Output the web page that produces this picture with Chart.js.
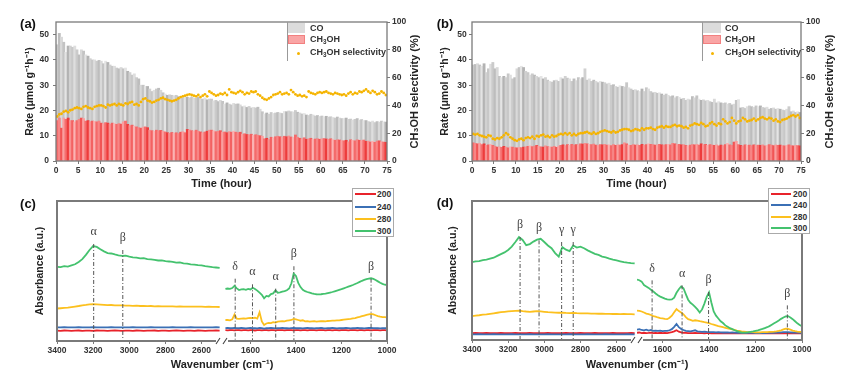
<!DOCTYPE html>
<html>
<head>
<meta charset="utf-8">
<script src="https://cdn.jsdelivr.net/npm/chart.js@4.4.1/dist/chart.umd.min.js"></script>
<style>
  body { margin: 0; background: #fff; width: 851px; height: 375px; position: relative; overflow: hidden;
         font-family: "Liberation Sans", Arial, sans-serif; }
  canvas { position: absolute; }
  .t { position: absolute; font-weight: bold; color: #333; white-space: nowrap; transform: translateY(-50%); line-height: 1; }
  .pl { position: absolute; font-weight: bold; font-size: 13px; color: #111; transform: translate(-50%, -50%); }
  .sw { position: absolute; }
  .box { position: absolute; background: #fff; border: 1px solid #aaa; box-sizing: border-box; }
  sub { font-size: 70%; vertical-align: -2px; }
</style>
</head>
<body>
<canvas id="ca" width="425" height="195" style="left:0;top:0"></canvas>
<canvas id="cb" width="426" height="195" style="left:425px;top:0"></canvas>
<canvas id="cc" width="425" height="187" style="left:0;top:188px"></canvas>
<canvas id="cd" width="426" height="187" style="left:425px;top:188px"></canvas>

<div class="pl" style="left:28px;top:23px">(a)</div>
<div class="pl" style="left:445px;top:23px">(b)</div>
<div class="pl" style="left:28px;top:203px">(c)</div>
<div class="pl" style="left:445px;top:202px">(d)</div>

<!-- legend (a) -->
<div class="sw" style="left:287px;top:22px;height:39px;border-left:1px solid #999"></div>
<div class="sw" style="left:288px;top:23px;width:17px;height:10px;background:#dcdcdc"></div>
<div class="sw" style="left:288px;top:35px;width:17px;height:9px;background:#f9a5a5;border:1px solid #f28080;box-sizing:border-box"></div>
<div class="sw" style="left:297px;top:52px;width:3px;height:3px;border-radius:50%;background:#f5b400"></div>
<div class="t" style="left:310px;top:28px;font-size:9px">CO</div>
<div class="t" style="left:310px;top:40px;font-size:9px">CH<sub>3</sub>OH</div>
<div class="t" style="left:310px;top:53px;font-size:9px">CH<sub>3</sub>OH selectivity</div>

<!-- legend (b) -->
<div class="sw" style="left:702px;top:22px;height:39px;border-left:1px solid #999"></div>
<div class="sw" style="left:703px;top:23px;width:18px;height:10px;background:#dcdcdc"></div>
<div class="sw" style="left:703px;top:35px;width:18px;height:9px;background:#f9a5a5;border:1px solid #f28080;box-sizing:border-box"></div>
<div class="sw" style="left:711px;top:52px;width:3px;height:3px;border-radius:50%;background:#f5b400"></div>
<div class="t" style="left:725px;top:28px;font-size:9px">CO</div>
<div class="t" style="left:725px;top:40px;font-size:9px">CH<sub>3</sub>OH</div>
<div class="t" style="left:725px;top:53px;font-size:9px">CH<sub>3</sub>OH selectivity</div>

<!-- legend (c) -->
<div class="box" style="left:352px;top:188px;width:42px;height:49px"></div>
<div class="sw" style="left:355px;top:193px;width:21px;height:2px;background:#e8232b"></div>
<div class="sw" style="left:355px;top:206px;width:21px;height:2px;background:#3b70b5"></div>
<div class="sw" style="left:355px;top:218px;width:21px;height:2px;background:#fcc01e"></div>
<div class="sw" style="left:355px;top:230px;width:21px;height:2px;background:#44c26e"></div>
<div class="t" style="left:377px;top:194px;font-size:8.5px">200</div>
<div class="t" style="left:377px;top:207px;font-size:8.5px">240</div>
<div class="t" style="left:377px;top:219px;font-size:8.5px">280</div>
<div class="t" style="left:377px;top:231px;font-size:8.5px">300</div>

<!-- legend (d) -->
<div class="box" style="left:768px;top:188px;width:42px;height:46px"></div>
<div class="sw" style="left:771px;top:193px;width:20px;height:2px;background:#e8232b"></div>
<div class="sw" style="left:771px;top:204px;width:20px;height:2px;background:#3b70b5"></div>
<div class="sw" style="left:771px;top:216px;width:20px;height:2px;background:#fcc01e"></div>
<div class="sw" style="left:771px;top:227px;width:20px;height:2px;background:#44c26e"></div>
<div class="t" style="left:793px;top:194px;font-size:8.5px">200</div>
<div class="t" style="left:793px;top:205px;font-size:8.5px">240</div>
<div class="t" style="left:793px;top:217px;font-size:8.5px">280</div>
<div class="t" style="left:793px;top:228px;font-size:8.5px">300</div>

<script>
// ---- time-on-stream data, one value per half hour (bars centred at 0.25, 0.75, ... h)
const hourStart = 0.25, hourStep = 0.5;

// panel (a)
const coA = [
  30, 33.5, 36, 30, 26.5, 28.5, 29.5, 29, 30, 28,
  25.5, 27, 26.7, 26.2, 25.5, 24.9, 24.2, 24.3, 24, 24,
  24.5, 23.7, 24.3, 24, 23.4, 22.5, 22.7, 22.3, 21.7, 22.4,
  21, 21, 21, 21, 19.8, 20.7, 19.5, 19.3, 17, 16.6,
  16, 16.3, 16.3, 15.5, 16.2, 16.3, 16.8, 15.9, 15.2, 15,
  14.8, 15.2, 14.7, 14.8, 14.8, 14.6, 14.1, 13.4, 14.6, 12.7,
  12.7, 13.3, 13.2, 12.6, 13.4, 13.1, 13.3, 13.5, 12.4, 12.3,
  12.3, 11.8, 12.4, 11.7, 12, 12.2, 11, 11.8, 10.9, 10.8,
  11, 11.1, 11.4, 10.8, 10.9, 11, 10.7, 11.2, 10.4, 11,
  10.6, 11.1, 10.5, 9.7, 9.8, 10, 10, 9.8, 9.6, 9.4,
  9.4, 9.4, 9.4, 9.8, 9.9, 9.9, 10, 10.1, 9.7, 9.9,
  10, 9.8, 9.6, 9.6, 9.2, 9.5, 9.7, 9.1, 9.2, 9,
  9, 8.6, 9, 8.8, 8.7, 8.7, 8.8, 9, 8.7, 8.7,
  8.8, 8.8, 8.9, 8.2, 8, 8.5, 8.4, 8, 8.3, 7.7,
  8.2, 7.7, 7.9, 8, 7.8, 7.7, 7.4, 8.2, 8, 8
];
const meohA = [
  16, 17, 13, 17, 16.5, 17, 16, 16, 15.5, 16,
  16.5, 17, 16.8, 15.8, 16, 15.6, 15.8, 15.7, 15.5, 15.8,
  15, 14.8, 15.2, 15, 14.6, 15, 14.8, 14.5, 14.8, 14.6,
  15.5, 15.8, 14.5, 14, 14.2, 13.8, 13.5, 13.2, 13, 13.4,
  13.5, 13.2, 12.2, 12, 11.8, 12.2, 12, 12.1, 11.8, 11.5,
  11.2, 11, 11.3, 11, 11.2, 10.9, 11.4, 11.6, 11.2, 12.5,
  12.3, 12, 11.8, 12.2, 11.8, 11.5, 11.2, 11.5, 11.8, 12.2,
  12.2, 12, 11.6, 11.8, 12, 11.4, 11.5, 11.2, 11.6, 11.4,
  11.8, 11.4, 11.2, 11.4, 10.6, 10.8, 10.5, 10.4, 10.6, 10.2,
  10.4, 10.2, 10, 9.8, 8.8, 9, 8.5, 9.4, 9.2, 9.6,
  9.8, 9.6, 9.4, 9.8, 9.6, 9.9, 9.5, 9.3, 10.3, 9.4,
  9, 8.8, 9.2, 8.6, 8.8, 9, 8.5, 8.7, 8.8, 8.6,
  8.8, 8.9, 8.7, 8.6, 8.8, 8.5, 8.2, 8.4, 8.3, 8.1,
  8, 8.2, 7.6, 8.4, 8.2, 8, 8.4, 8.2, 8.1, 8.3,
  7.8, 7.9, 7.5, 7.8, 7.4, 7.9, 8, 7.6, 7.5, 7.4
];
const selA = [
  32, 33.5, 34, 35.5, 36, 35, 36.5, 37, 38, 38.5,
  38, 37.5, 39, 39.5, 38.5, 38, 37.5, 39, 39.5, 40,
  40, 39.5, 38.5, 40.5, 40, 40.5, 41, 40, 41, 40.5,
  40, 41.5, 41, 42, 42.5, 40.5, 41, 40, 42.5, 44.5,
  45, 43.5, 43, 42, 42.5, 43.5, 44, 45, 45.5, 44.5,
  44, 43.5, 43, 43.5, 44, 45, 46, 46.5, 47, 47.5,
  48, 47.5, 47, 46.5, 47.5, 46, 47, 48, 46.5, 50,
  49, 48, 47, 47.5, 48.5, 48, 49, 47.5, 51.5, 49.5,
  49, 48.5, 49.5, 50.5, 49.5, 48, 49, 48.5, 50, 49.5,
  50, 48, 47, 45.5, 44.5, 44, 45, 46, 47.5, 48,
  48.5, 49.5, 48, 48.5, 49, 48, 51, 49.5, 48, 47,
  47.5, 46.5, 47, 46, 50, 49, 48.5, 48, 49, 49.5,
  49, 49.5, 50, 49, 48.5, 48, 49, 48.5, 48, 47.5,
  48, 47, 48.5, 49.5, 48, 49, 48.5, 50, 49.5, 50.5,
  51.5, 50, 49, 50.5, 49.5, 48, 48.5, 50, 49, 47.5
];

// panel (b)
const coB = [
  30.8, 31.2, 31.7, 31, 31, 31.7, 28.8, 30.1, 31.7, 32.8,
  30.7, 31.5, 27.9, 27.6, 27.7, 27.5, 29.3, 28.4, 27, 27.7,
  31.3, 31.6, 32.2, 31.5, 29.9, 29.2, 28, 28.8, 28.1, 27.3,
  27.2, 27.9, 27, 27, 26.3, 25.9, 25.7, 26, 26.6, 25.6,
  26.8, 26.1, 27.4, 26.3, 26.3, 24.9, 26.2, 25.3, 26.6, 25.7,
  26.3, 29.5, 25.2, 25.9, 25, 25.3, 25.2, 24.8, 25, 24.8,
  24.4, 24.2, 24.4, 23.9, 23.7, 23.3, 22.8, 23.5, 23, 22.1,
  24.2, 22.7, 22.3, 21.5, 21.9, 21.4, 21.3, 21.9, 21.2, 22.5,
  21.7, 20.9, 20.5, 20.9, 20.4, 20.4, 20.1, 19.7, 20, 19.4,
  19.1, 18.8, 18.2, 19, 18.6, 18.1, 18.3, 17.8, 18.5, 17.9,
  19, 18.6, 19.2, 18.2, 17.2, 17.7, 17.2, 17.8, 17, 16.9,
  18.3, 16.6, 17.5, 16.7, 16.7, 16.5, 15.5, 16.4, 16, 15,
  16.2, 17.8, 14.8, 15.2, 14.4, 15.3, 15.5, 15.4, 14.8, 15.6,
  15.2, 15.6, 14.8, 15, 15.1, 14, 14.5, 14.9, 14.1, 14.6,
  14.2, 14.1, 14, 14.3, 15.1, 13.4, 13.8, 13, 13.4, 13.2
];
const meohB = [
  7.2, 7, 6.8, 7, 6.5, 6.8, 6.2, 6.4, 6.6, 6.2,
  5.8, 5.5, 5.6, 5.4, 5.8, 5.5, 5.2, 5.6, 5.5, 5.3,
  5.2, 5.4, 5.3, 5.5, 5.6, 5.8, 6, 5.7, 5.9, 6.2,
  5.8, 5.6, 5.5, 6, 5.7, 5.6, 5.5, 5.8, 5.4, 5.9,
  6.2, 6.4, 6.1, 6.5, 6.2, 6.6, 6.3, 6.5, 6.4, 6.8,
  6.7, 7, 6.8, 6.6, 6.5, 6.7, 6.3, 6.2, 6.5, 6.4,
  6.6, 6.3, 6.4, 6.1, 6.5, 6.2, 6.4, 6.3, 6.5, 7.2,
  6.8, 6.3, 6.2, 6.5, 6.3, 6.4, 6.2, 6.6, 6.3, 6.5,
  6.8, 6.6, 6.5, 6.3, 6.4, 6.6, 6.4, 6.3, 6.5, 6.6,
  6.4, 7, 6.8, 6.5, 6.6, 6.4, 6.5, 6.2, 6, 6.3,
  6.5, 6.4, 6.6, 6.3, 6.8, 6.5, 6.6, 6.2, 6.5, 6.3,
  6.2, 6.4, 6, 6.3, 6.1, 6.5, 7, 6.4, 6.2, 7.5,
  7.8, 6.5, 6.2, 6, 6.4, 6.2, 6.3, 6.1, 6.4, 6.2,
  6.3, 6.2, 6.4, 6, 6.2, 6.5, 6.3, 6.1, 6.4, 6.2,
  6.3, 6.1, 6, 6.2, 6.4, 6.1, 6, 6.2, 6.1, 6
];
const selB = [
  19.5, 19, 19.5, 18.5, 18, 17.5, 17, 18.5, 18, 16,
  15.5, 16.5, 16, 17, 18.5, 20, 19, 17, 16, 15,
  14.5, 15.5, 16, 15, 16.5, 17, 16.5, 17.5, 16, 18,
  17.5, 18.5, 19, 17.5, 18, 17, 18.5, 17.5, 18, 19,
  19.5, 19, 20, 19, 20, 18.5, 19.5, 18.5, 19.5, 20,
  20, 20.5, 21, 20, 19.5, 20.5, 19.5, 20, 21, 21.5,
  22, 21.5, 21, 20.5, 21.5, 20.5, 21, 22, 22.5, 23,
  23, 22.5, 21.5, 22, 23, 22.5, 22, 23.5, 22.5, 23.5,
  23.5, 24, 23, 22.5, 24, 24.5, 25, 24, 25, 24.5,
  24.5, 25.5, 26, 25, 25.5, 25, 24, 24.5, 23.5, 25.5,
  26, 27, 26.5, 26, 27.5, 26.5, 25, 25.5, 27, 28,
  26.5, 25.5, 27, 26.5, 30, 28.5, 27, 28, 31, 29,
  27, 28.5, 29, 31, 30, 28.5, 29, 29.5, 30.5, 29,
  30, 31, 31.5, 30.5, 30, 31, 30.5, 29, 30, 28.5,
  28, 29.5, 30, 30.5, 31.5, 32.5, 33, 32, 33, 31
];

// ---- DRIFTS spectra (absorbance in arbitrary units, 0..1 of the panel height)
const wnHigh = [3400, 3380, 3360, 3340, 3320, 3300, 3280, 3260, 3240, 3220,
  3200, 3180, 3160, 3140, 3120, 3100, 3080, 3060, 3040, 3020,
  3000, 2980, 2960, 2940, 2920, 2900, 2880, 2860, 2840, 2820,
  2800, 2780, 2760, 2740, 2720, 2700, 2680, 2660, 2640, 2620,
  2600, 2580, 2560, 2540, 2520, 2500];
const wnLow = [1710, 1700, 1690, 1680, 1670, 1660, 1650, 1640, 1630, 1620,
  1610, 1600, 1590, 1580, 1570, 1560, 1550, 1540, 1530, 1520,
  1510, 1500, 1490, 1480, 1470, 1460, 1450, 1440, 1430, 1420,
  1410, 1400, 1390, 1380, 1370, 1360, 1350, 1340, 1330, 1320,
  1310, 1300, 1290, 1280, 1270, 1260, 1250, 1240, 1230, 1220,
  1210, 1200, 1190, 1180, 1170, 1160, 1150, 1140, 1130, 1120,
  1110, 1100, 1090, 1080, 1070, 1060, 1050, 1040, 1030, 1020,
  1010, 1000];
const temps = ['200', '240', '280', '300'];

// panel (c)
const c300High = [.530, .528, .535, .532, .540, .548, .565, .585, .615, .650,
  .678, .672, .655, .640, .628, .625, .618, .612, .608, .610,
  .602, .598, .596, .590, .592, .585, .583, .580, .575, .576,
  .570, .568, .565, .560, .562, .555, .553, .548, .546, .542,
  .540, .535, .532, .528, .525, .522];
const c280High = [.232, .234, .236, .238, .242, .246, .250, .255, .258, .262,
  .264, .262, .260, .258, .256, .257, .255, .254, .255, .253,
  .252, .251, .252, .250, .250, .249, .250, .248, .249, .248,
  .247, .248, .247, .246, .247, .246, .246, .245, .246, .245,
  .245, .244, .245, .244, .244, .243];
const c240High = [.098, .097, .099, .098, .098, .097, .099, .098, .097, .098,
  .099, .098, .097, .098, .098, .099, .097, .098, .098, .097,
  .098, .099, .098, .097, .098, .098, .099, .098, .097, .098,
  .098, .097, .099, .098, .098, .097, .098, .099, .098, .097,
  .098, .098, .097, .098, .099, .098];
const c200High = [.074, .073, .075, .074, .073, .074, .075, .073, .074, .074,
  .073, .075, .074, .074, .073, .074, .075, .074, .073, .074,
  .074, .073, .075, .074, .073, .074, .074, .075, .073, .074,
  .074, .073, .074, .075, .074, .073, .074, .074, .073, .075,
  .074, .073, .074, .074, .075, .074];
const c300Low = [.372, .375, .372, .378, .394, .376, .364, .368, .370, .366,
  .372, .368, .380, .372, .360, .345, .330, .305, .322, .318,
  .335, .340, .362, .345, .348, .352, .356, .362, .375, .412,
  .482, .465, .415, .385, .366, .356, .350, .345, .340, .336,
  .334, .333, .334, .336, .338, .342, .346, .350, .355, .360,
  .365, .370, .376, .382, .388, .394, .400, .407, .414, .422,
  .430, .436, .442, .446, .448, .444, .436, .426, .416, .408,
  .402, .400];
const c280Low = [.150, .150, .148, .155, .190, .160, .158, .160, .162, .160,
  .163, .165, .163, .166, .160, .205, .140, .115, .125, .130,
  .128, .135, .132, .138, .140, .142, .140, .145, .148, .150,
  .158, .155, .150, .145, .148, .140, .142, .138, .140, .142,
  .138, .140, .141, .142, .140, .143, .144, .145, .146, .147,
  .148, .150, .152, .154, .156, .158, .161, .164, .168, .172,
  .177, .182, .187, .191, .194, .190, .184, .178, .174, .171,
  .170, .168];
const c240Low = [.092, .093, .091, .092, .094, .092, .091, .093, .092, .090,
  .092, .093, .091, .092, .090, .093, .091, .089, .092, .091,
  .093, .092, .090, .091, .092, .093, .091, .092, .090, .092,
  .093, .091, .092, .091, .090, .092, .093, .091, .092, .090,
  .091, .092, .093, .091, .090, .092, .091, .093, .092, .090,
  .091, .092, .091, .093, .092, .090, .091, .092, .093, .091,
  .092, .090, .092, .094, .093, .092, .091, .092, .090, .091,
  .092, .091];
const c200Low = [.077, .076, .078, .077, .076, .077, .078, .076, .077, .077,
  .076, .078, .077, .075, .077, .078, .076, .077, .077, .076,
  .078, .077, .076, .077, .078, .077, .076, .077, .077, .078,
  .076, .077, .077, .076, .078, .077, .076, .077, .078, .077,
  .076, .077, .077, .078, .076, .077, .077, .076, .078, .077,
  .076, .077, .078, .077, .076, .077, .077, .078, .076, .077,
  .077, .076, .078, .077, .076, .077, .078, .077, .076, .077,
  .077, .076];
const peakWnC = [3197, 3036, 1667, 1591, 1489, 1409, 1070];
const peakLabelC = ['α', 'β', 'δ', 'α', 'α', 'β', 'β'];
const peakTopC = [.693, .65, .445, .405, .374, .534, .445];

// panel (d)
const d300High = [.560, .565, .568, .575, .578, .585, .592, .605, .618, .630,
  .648, .672, .705, .740, .720, .682, .690, .708, .722, .728,
  .705, .680, .660, .625, .600, .668, .650, .640, .680, .665,
  .672, .660, .645, .632, .620, .612, .600, .595, .585, .578,
  .572, .566, .560, .556, .553, .551];
const d280High = [.172, .176, .178, .182, .184, .188, .192, .196, .200, .203,
  .206, .208, .210, .212, .208, .205, .203, .205, .207, .206,
  .203, .200, .199, .197, .196, .197, .195, .194, .195, .193,
  .192, .192, .191, .190, .190, .189, .189, .188, .188, .187,
  .187, .186, .187, .186, .186, .185];
const d240High = [.041, .040, .042, .041, .040, .041, .042, .040, .041, .041,
  .040, .042, .041, .040, .041, .041, .042, .040, .041, .040,
  .041, .042, .041, .040, .041, .041, .040, .042, .041, .040,
  .041, .041, .042, .040, .041, .040, .041, .042, .041, .040,
  .041, .041, .040, .042, .041, .041];
const d200High = [.050, .051, .049, .050, .051, .050, .049, .050, .051, .050,
  .049, .050, .051, .050, .050, .049, .051, .050, .050, .049,
  .050, .051, .050, .049, .050, .050, .051, .049, .050, .050,
  .051, .050, .049, .050, .051, .050, .050, .049, .050, .051,
  .050, .049, .050, .050, .051, .050];
const d300Low = [.435, .430, .420, .395, .385, .375, .362, .350, .335, .322,
  .312, .305, .298, .292, .290, .292, .305, .340, .365, .385,
  .372, .330, .290, .268, .255, .238, .220, .198, .220, .262,
  .310, .343, .270, .205, .175, .155, .135, .122, .105, .095,
  .085, .078, .070, .064, .058, .054, .053, .054, .056, .059,
  .062, .066, .070, .075, .080, .086, .092, .100, .110, .120,
  .130, .140, .152, .162, .170, .172, .162, .150, .135, .120,
  .108, .100];
const d280Low = [.212, .210, .205, .198, .190, .186, .180, .172, .168, .162,
  .158, .155, .152, .150, .160, .175, .200, .222, .208, .198,
  .185, .165, .150, .145, .138, .142, .140, .135, .132, .128,
  .125, .121, .115, .110, .105, .100, .096, .092, .088, .084,
  .080, .076, .072, .068, .065, .062, .060, .058, .057, .056,
  .056, .055, .055, .055, .056, .056, .057, .058, .059, .060,
  .062, .065, .070, .076, .082, .080, .074, .068, .064, .061,
  .059, .058];
const d240Low = [.075, .078, .072, .070, .074, .068, .072, .066, .068, .065,
  .067, .064, .066, .065, .070, .078, .095, .115, .092, .080,
  .072, .066, .064, .062, .066, .070, .062, .060, .058, .060,
  .058, .057, .056, .057, .055, .056, .055, .054, .055, .054,
  .053, .054, .053, .052, .053, .052, .052, .051, .052, .051,
  .051, .050, .051, .050, .051, .050, .051, .051, .052, .052,
  .053, .054, .055, .056, .057, .056, .055, .054, .053, .053,
  .052, .052];
const d200Low = [.052, .054, .050, .052, .050, .051, .053, .050, .051, .050,
  .052, .050, .051, .050, .053, .056, .062, .070, .060, .055,
  .052, .051, .050, .049, .050, .051, .049, .050, .049, .048,
  .049, .050, .048, .049, .048, .049, .048, .047, .048, .049,
  .048, .047, .048, .047, .048, .047, .048, .047, .047, .048,
  .047, .048, .047, .047, .048, .047, .047, .048, .047, .047,
  .048, .047, .048, .049, .048, .048, .047, .048, .047, .047,
  .048, .047];
const peakWnD = [3134, 3029, 2904, 2840, 1645, 1516, 1402, 1063];
const peakLabelD = ['β', 'β', 'γ', 'γ', 'δ', 'α', 'β', 'β'];
const peakTopD = [.741, .717, .705, .705, .429, .393, .345, .249];

// ---- styles
const tempColors = ['#e8232b', '#3b70b5', '#fcc01e', '#44c26e'];
const coShades = ['#cbcbcb', '#bdbdbd', '#d9d9d9', '#c4c4c4', '#e4e4e4', '#b3b3b3', '#d1d1d1', '#c8c8c8', '#dedede'];
const meohShades = ['#f46a6a', '#f78585', '#f15555', '#fa9f9f', '#f56f6f', '#ed3c3c', '#f89090', '#f36262', '#fbb3b3'];
const axisGray = '#7a7a7a';
const tickFont = { size: 8.5, weight: 'bold' };
const titleFont = { size: 11, weight: 'bold' };

Chart.defaults.font.family = '"Liberation Sans", Arial, sans-serif';
Chart.defaults.color = '#333';

// plot frame + optional axis break marks
const framePlugin = {
  id: 'frame',
  afterDraw(chart, args, opts) {
    const { ctx, chartArea: a } = chart;
    ctx.save();
    ctx.strokeStyle = opts.color;
    ctx.lineWidth = opts.width;
    ctx.strokeRect(a.left, a.top, a.right - a.left, a.bottom - a.top);
    if (opts.breakAxis) {
      const bx = chart.scales[opts.breakAxis].right;
      const by = a.bottom;
      ctx.fillStyle = '#fff';
      ctx.fillRect(bx - 6, by - 3, 12, 6);
      ctx.strokeStyle = '#444';
      ctx.lineWidth = 1.1;
      ctx.beginPath();
      ctx.moveTo(bx - 6, by + 3); ctx.lineTo(bx - 2, by - 3);
      ctx.moveTo(bx + 1, by + 3); ctx.lineTo(bx + 5, by - 3);
      ctx.stroke();
    }
    ctx.restore();
  }
};

// free text (titles that Chart.js cannot place the same way)
const textPlugin = {
  id: 'texts',
  afterDraw(chart, args, opts) {
    const { ctx, chartArea: a } = chart;
    (opts.items || []).forEach(t => {
      ctx.save();
      ctx.translate(t.x === undefined ? (a.left + a.right) / 2 : t.x, t.y === undefined ? (a.top + a.bottom) / 2 : t.y);
      ctx.rotate(t.rot || 0);
      ctx.font = 'bold 11px "Liberation Sans", Arial, sans-serif';
      ctx.fillStyle = '#222';
      ctx.textAlign = 'center';
      ctx.textBaseline = 'middle';
      ctx.fillText(t.text, 0, 0);
      ctx.restore();
    });
  }
};

// dash-dot peak markers with greek labels
const peakPlugin = {
  id: 'peaks',
  afterDatasetsDraw(chart, args, opts) {
    const { ctx, chartArea: a } = chart;
    const ys = chart.scales.y;
    ctx.save();
    opts.wn.forEach((w, i) => {
      const xs = chart.scales[w > 2000 ? 'xL' : 'xR'];
      const px = xs.getPixelForValue(w);
      const py = ys.getPixelForValue(opts.top[i]);
      ctx.setLineDash([4, 2, 1, 2]);
      ctx.strokeStyle = '#555';
      ctx.lineWidth = 1;
      ctx.beginPath();
      ctx.moveTo(px, py);
      ctx.lineTo(px, a.bottom);
      ctx.stroke();
      ctx.setLineDash([]);
      ctx.fillStyle = '#444';
      ctx.font = '12px "Liberation Serif", "DejaVu Serif", serif';
      ctx.textAlign = 'center';
      ctx.textBaseline = 'middle';
      ctx.fillText(opts.label[i], px, py - 12);
    });
    ctx.restore();
  }
};

function rateChart(id, co, meoh, sel, o) {
  const hours = co.map((_, i) => hourStart + i * hourStep);
  const pts = arr => arr.map((v, i) => ({ x: hours[i], y: v }));
  return new Chart(document.getElementById(id), {
    type: 'bar',
    data: {
      datasets: [
        {
          type: 'line', label: 'CH3OH selectivity', data: pts(sel), yAxisID: 'y1',
          showLine: false, pointRadius: 1.4, pointBackgroundColor: '#f5b400', pointBorderWidth: 0, order: 0
        },
        {
          label: 'CH3OH', data: pts(meoh), backgroundColor: c => meohShades[c.dataIndex % meohShades.length],
          barPercentage: 1, categoryPercentage: 1, borderWidth: 0, order: 1
        },
        {
          label: 'CO', data: pts(co), backgroundColor: c => coShades[c.dataIndex % coShades.length],
          barPercentage: 1, categoryPercentage: 1, borderWidth: 0, order: 2
        }
      ]
    },
    options: {
      responsive: false, animation: false, devicePixelRatio: 1,
      layout: { padding: { top: 22, left: 0, right: 0, bottom: 0 } },
      plugins: {
        legend: { display: false }, tooltip: { enabled: false },
        frame: { color: axisGray, width: 1.3 },
        texts: { items: [{ text: 'CH₃OH selectivity (%)', x: o.rightTitleX, rot: -Math.PI / 2 }] }
      },
      scales: {
        x: {
          type: 'linear', min: 0, max: 75, stacked: true, offset: false,
          grid: { offset: false, drawOnChartArea: false, tickLength: 3, color: axisGray },
          border: { display: false },
          ticks: { stepSize: 5, autoSkip: false, maxRotation: 0, padding: 2, font: tickFont, color: '#333' },
          title: { display: true, text: 'Time (hour)', font: titleFont, color: '#222', padding: { top: 0, bottom: 4.4 } },
          afterFit: s => { s.height = 34; }
        },
        y: {
          position: 'left', min: 0, max: 55, stacked: true,
          grid: { drawOnChartArea: false, tickLength: 3, color: axisGray },
          border: { display: false },
          ticks: { stepSize: 10, includeBounds: false, padding: o.leftPad, font: tickFont, color: '#333' },
          title: { display: true, text: 'Rate (μmol g⁻¹h⁻¹)', font: { size: 10.5, weight: 'bold' }, color: '#222',
                   padding: { top: o.leftTitlePad, bottom: 0 } },
          afterFit: s => { s.width = o.leftW; }
        },
        y1: {
          position: 'right', min: 0, max: 100,
          grid: { drawOnChartArea: false, tickLength: 3, color: axisGray },
          border: { display: false },
          ticks: { stepSize: 20, includeBounds: false, padding: 2, font: tickFont, color: '#333' },
          afterFit: s => { s.width = o.rightW; }
        }
      }
    },
    plugins: [framePlugin, textPlugin]
  });
}

function irChart(id, highs, lows, peaks, o) {
  const datasets = [];
  for (let k = temps.length - 1; k >= 0; k--) {
    const style = { label: temps[k], borderColor: tempColors[k], borderWidth: 1.8, pointRadius: 0, tension: 0 };
    datasets.push({ ...style, xAxisID: 'xL', data: wnHigh.map((w, i) => ({ x: w, y: highs[k][i] })) });
    datasets.push({ ...style, xAxisID: 'xR', data: wnLow.map((w, i) => ({ x: w, y: lows[k][i] })) });
  }
  const xCommon = {
    type: 'linear', position: 'bottom', stack: 'wn', stackWeight: 1, reverse: true,
    grid: { drawOnChartArea: false, tickLength: 3, color: axisGray },
    border: { display: false },
    ticks: { stepSize: 200, includeBounds: false, autoSkip: false, maxRotation: 0, padding: 2,
             font: tickFont, color: '#333', callback: v => String(v) },
    afterFit: s => { s.height = o.xH; }
  };
  return new Chart(document.getElementById(id), {
    type: 'line',
    data: { datasets },
    options: {
      responsive: false, animation: false, devicePixelRatio: 1,
      layout: { padding: { top: 13, left: 0, right: o.right, bottom: 0 } },
      plugins: {
        legend: { display: false }, tooltip: { enabled: false },
        frame: { color: axisGray, width: 2, breakAxis: 'xL' },
        texts: { items: [{ text: 'Wavenumber (cm⁻¹)', y: 177 }] },
        peaks: peaks
      },
      scales: {
        xL: { ...xCommon, min: o.lMin, max: 3400 },
        xR: { ...xCommon, min: 1000, max: o.rMax },
        y: {
          min: 0, max: 1,
          grid: { display: false }, border: { display: false },
          ticks: { display: false },
          title: { display: true, text: 'Absorbance (a.u.)', font: { size: 10.5, weight: 'bold' }, color: '#222',
                   padding: { top: o.yTitlePad, bottom: 0 } },
          afterFit: s => { s.width = o.leftW; }
        }
      }
    },
    plugins: [framePlugin, textPlugin, peakPlugin]
  });
}

rateChart('ca', coA, meohA, selA, { leftW: 56, rightW: 38, leftPad: 4, leftTitlePad: 23.7, rightTitleX: 415 });
rateChart('cb', coB, meohB, selB, { leftW: 47, rightW: 50, leftPad: 2.3, leftTitlePad: 13.7, rightTitleX: 405 });

irChart('cc', [c200High, c240High, c280High, c300High], [c200Low, c240Low, c280Low, c300Low],
  { wn: peakWnC, label: peakLabelC, top: peakTopC },
  { right: 38, leftW: 57, xH: 34, lMin: 2487, rMax: 1725, yTitlePad: 34 });
irChart('cd', [d200High, d240High, d280High, d300High], [d200Low, d240Low, d280Low, d300Low],
  { wn: peakWnD, label: peakLabelD, top: peakTopD },
  { right: 49, leftW: 47, xH: 35, lMin: 2487, rMax: 1710, yTitlePad: 22 });
</script>
</body>
</html>
